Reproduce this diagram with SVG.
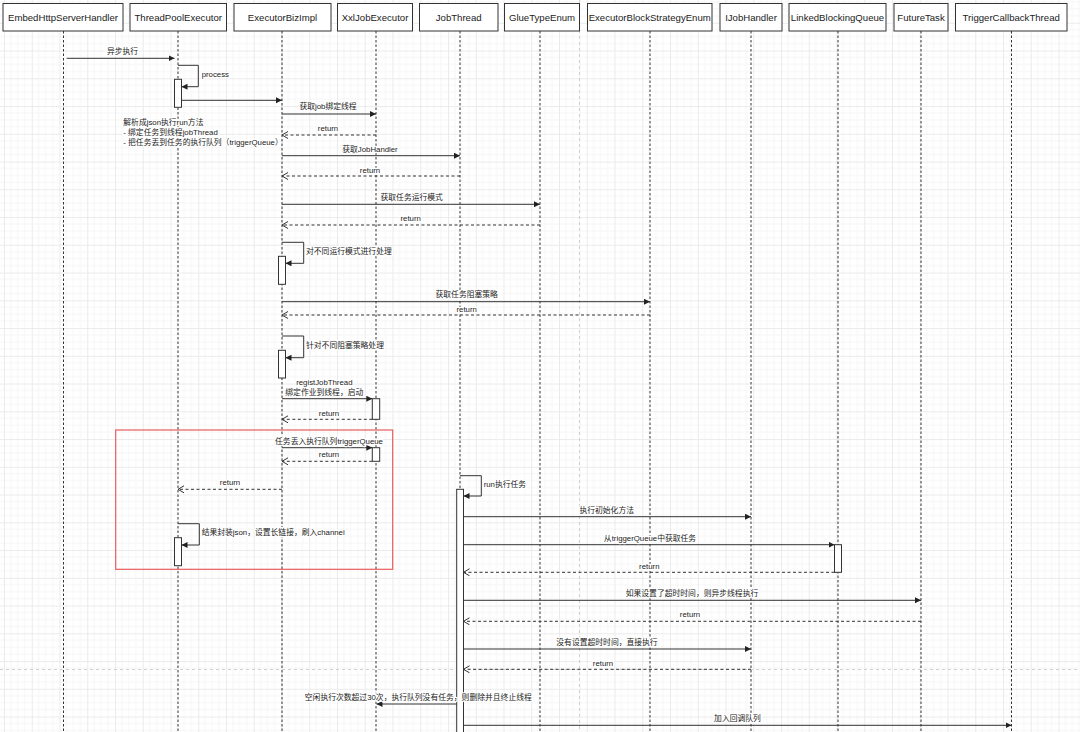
<svg xmlns="http://www.w3.org/2000/svg" width="1080" height="732" viewBox="0 0 1080 732">
<defs>
<pattern id="grid" x="4" y="-4.95" width="27.75" height="27.75" patternUnits="userSpaceOnUse">
<path d="M6.94,0V27.75M13.87,0V27.75M20.81,0V27.75M0,6.94H27.75M0,13.87H27.75M0,20.81H27.75" stroke="#f6f6f6" stroke-width="1" fill="none"/>
<path d="M0.5,0V27.75M0,0.5H27.75" stroke="#ebebeb" stroke-width="1" fill="none"/>
</pattern>
<marker id="fa" markerUnits="userSpaceOnUse" markerWidth="8" markerHeight="8" refX="6" refY="3" orient="auto">
<path d="M0,0L6,3L0,6z" fill="#222"/>
</marker>
<marker id="oa" markerUnits="userSpaceOnUse" markerWidth="10" markerHeight="10" refX="6" refY="3.5" orient="auto">
<path d="M0,0L6,3.5L0,7" fill="none" stroke="#333" stroke-width="1"/>
</marker>
</defs>
<style>
.box{fill:#fff;stroke:#333;stroke-width:1}
.hd{font-family:"Liberation Sans","Noto Sans CJK SC",sans-serif;font-size:9.6px;fill:#222;text-anchor:middle;dominant-baseline:central}
.life{stroke:#333;stroke-width:1;stroke-dasharray:2.5 2;fill:none}
.msg{stroke:#333;stroke-width:1;fill:none;marker-end:url(#fa)}
.ret{stroke:#333;stroke-width:1;fill:none;stroke-dasharray:3 2.5;marker-end:url(#oa)}
.act{fill:#fff;stroke:#333;stroke-width:1}
.lb{font-family:"Liberation Sans","Noto Sans CJK SC",sans-serif;font-size:7.8px;fill:#222;text-anchor:middle;dominant-baseline:central;stroke:#fff;stroke-width:2.5;stroke-linejoin:round;paint-order:stroke}
.ll{text-anchor:start}
.pb{stroke:#cfcfcf;stroke-width:1;stroke-dasharray:3 3;fill:none}
</style>
<rect width="1080" height="732" fill="#fff"/>
<rect width="1080" height="732" fill="url(#grid)"/>
<path class="pb" d="M579.5,0V732M0,669.5H1080"/>

<g id="lifelines">
<path class="life" d="M63.5,31V732M178,31V732M282,31V732M376,31V732M460,31V732M540,31V732M650,31V732M751,31V732M838,31V732M921,31V732M1011.5,31V732"/>
</g>

<g id="n-EmbedHttpServerHandler"><rect class="box" x="3" y="3.5" width="120" height="27.5"/><text class="hd" x="63" y="17.5">EmbedHttpServerHandler</text></g>
<g id="n-ThreadPoolExecutor"><rect class="box" x="130" y="3.5" width="96.5" height="27.5"/><text class="hd" x="178.2" y="17.5">ThreadPoolExecutor</text></g>
<g id="n-ExecutorBizImpl"><rect class="box" x="234" y="3.5" width="97" height="27.5"/><text class="hd" x="282.5" y="17.5">ExecutorBizImpl</text></g>
<g id="n-XxlJobExecutor"><rect class="box" x="337.5" y="3.5" width="75" height="27.5"/><text class="hd" x="375" y="17.5">XxlJobExecutor</text></g>
<g id="n-JobThread"><rect class="box" x="419.5" y="3.5" width="78.5" height="27.5"/><text class="hd" x="458.7" y="17.5">JobThread</text></g>
<g id="n-GlueTypeEnum"><rect class="box" x="504.5" y="3.5" width="75" height="27.5"/><text class="hd" x="542" y="17.5">GlueTypeEnum</text></g>
<g id="n-ExecutorBlockStrategyEnum"><rect class="box" x="587.5" y="3.5" width="124.5" height="27.5"/><text class="hd" x="649.7" y="17.5">ExecutorBlockStrategyEnum</text></g>
<g id="n-IJobHandler"><rect class="box" x="720" y="3.5" width="62" height="27.5"/><text class="hd" x="751" y="17.5">IJobHandler</text></g>
<g id="n-LinkedBlockingQueue"><rect class="box" x="789" y="3.5" width="97" height="27.5"/><text class="hd" x="837.5" y="17.5">LinkedBlockingQueue</text></g>
<g id="n-FutureTask"><rect class="box" x="894" y="3.5" width="54" height="27.5"/><text class="hd" x="921" y="17.5">FutureTask</text></g>
<g id="n-TriggerCallbackThread"><rect class="box" x="955.5" y="3.5" width="111.5" height="27.5"/><text class="hd" x="1011.2" y="17.5">TriggerCallbackThread</text></g>

<g id="n-highlight"><rect x="115.7" y="430" width="277" height="139.3" fill="none" stroke="#e85d5d" stroke-width="1.2"/></g>

<g id="activations">
<rect class="act" x="174.5" y="79.3" width="7" height="28"/>
<rect class="act" x="278.5" y="256.3" width="7" height="28"/>
<rect class="act" x="278.5" y="350.3" width="7" height="27.7"/>
<rect class="act" x="372.3" y="398.7" width="7.4" height="20.6"/>
<rect class="act" x="372.3" y="447.7" width="7.4" height="13.6"/>
<rect class="act" x="174.5" y="537.7" width="7" height="28"/>
<rect class="act" x="456.7" y="489.3" width="6.8" height="250"/>
<rect class="act" x="834.5" y="544.7" width="7" height="27.6"/>
</g>

<g id="connectors">
<path class="msg" d="M66.7,58.3H174.5"/>
<path class="msg" d="M178,65.3H198.3V86.7H181.5"/>
<path class="msg" d="M181.5,100.3H282"/>
<path class="msg" d="M282,114H376"/>
<path class="ret" d="M376,135H282"/>
<path class="msg" d="M282,155.7H460"/>
<path class="ret" d="M460,176H282"/>
<path class="msg" d="M282,204.3H540"/>
<path class="ret" d="M540,225H282"/>
<path class="msg" d="M282,242.3H303.7V263.3H285.5"/>
<path class="msg" d="M282,301.7H650"/>
<path class="ret" d="M650,315H282"/>
<path class="msg" d="M282,336H303.7V357.7H285.5"/>
<path class="msg" d="M282,398.7H372.3"/>
<path class="ret" d="M372.3,419.3H282"/>
<path class="msg" d="M282,447.7H372.3"/>
<path class="ret" d="M372.3,461.3H282"/>
<path class="ret" d="M282,489.3H178"/>
<path class="msg" d="M178,523.7H199.3V545H181.5"/>
<path class="msg" d="M460,475.7H481.3V496H463.5"/>
<path class="msg" d="M463.5,516.7H751"/>
<path class="msg" d="M463.5,544.7H834.5"/>
<path class="ret" d="M834.5,572.3H463.5"/>
<path class="msg" d="M463.5,600.3H921"/>
<path class="ret" d="M921,621.3H463.5"/>
<path class="msg" d="M463.5,649H751"/>
<path class="ret" d="M751,669.3H463.5"/>
<path class="msg" d="M456.7,704H376.5"/>
<path class="msg" d="M463.5,725.3H1011.5"/>
</g>

<g id="labels">
<text class="lb" x="122.5" y="51.7">异步执行</text>
<text class="lb ll" x="201.7" y="74.3">process</text>
<text class="lb" x="328" y="106.7">获取job绑定线程</text>
<text class="lb" x="328" y="128.3">return</text>
<text class="lb ll" x="123.3" y="122.3">解析成json执行run方法</text>
<text class="lb ll" x="123.3" y="132.3">- 绑定任务到线程jobThread</text>
<text class="lb ll" x="123.3" y="142.3">- 把任务丢到任务的执行队列（triggerQueue）</text>
<text class="lb" x="370" y="149">获取JobHandler</text>
<text class="lb" x="370" y="170">return</text>
<text class="lb" x="411.7" y="197.7">获取任务运行模式</text>
<text class="lb" x="410.7" y="218.7">return</text>
<text class="lb ll" x="306" y="251.7">对不同运行模式进行处理</text>
<text class="lb" x="466.7" y="294.3">获取任务阻塞策略</text>
<text class="lb" x="466.7" y="309">return</text>
<text class="lb ll" x="306" y="345">针对不同阻塞策略处理</text>
<text class="lb" x="324.3" y="382.7">registJobThread</text>
<text class="lb" x="324.3" y="392">绑定作业到线程，启动</text>
<text class="lb" x="329" y="413">return</text>
<text class="lb" x="329" y="441">任务丢入执行队列triggerQueue</text>
<text class="lb" x="329" y="454.7">return</text>
<text class="lb" x="230" y="482.3">return</text>
<text class="lb ll" x="201.7" y="532.3">结果封装json，设置长链接，刷入channel</text>
<text class="lb ll" x="483.7" y="484">run执行任务</text>
<text class="lb" x="606.7" y="510.7">执行初始化方法</text>
<text class="lb" x="650" y="538.3">从triggerQueue中获取任务</text>
<text class="lb" x="649.3" y="566">return</text>
<text class="lb" x="692" y="593.7">如果设置了超时时间，则异步线程执行</text>
<text class="lb" x="690" y="614.3">return</text>
<text class="lb" x="607" y="642.3">没有设置超时时间，直接执行</text>
<text class="lb" x="603" y="663">return</text>
<text class="lb" x="418.3" y="697.3">空闲执行次数超过30次，执行队列没有任务，则删除并且终止线程</text>
<text class="lb" x="737.5" y="718.3">加入回调队列</text>
</g>
</svg>
